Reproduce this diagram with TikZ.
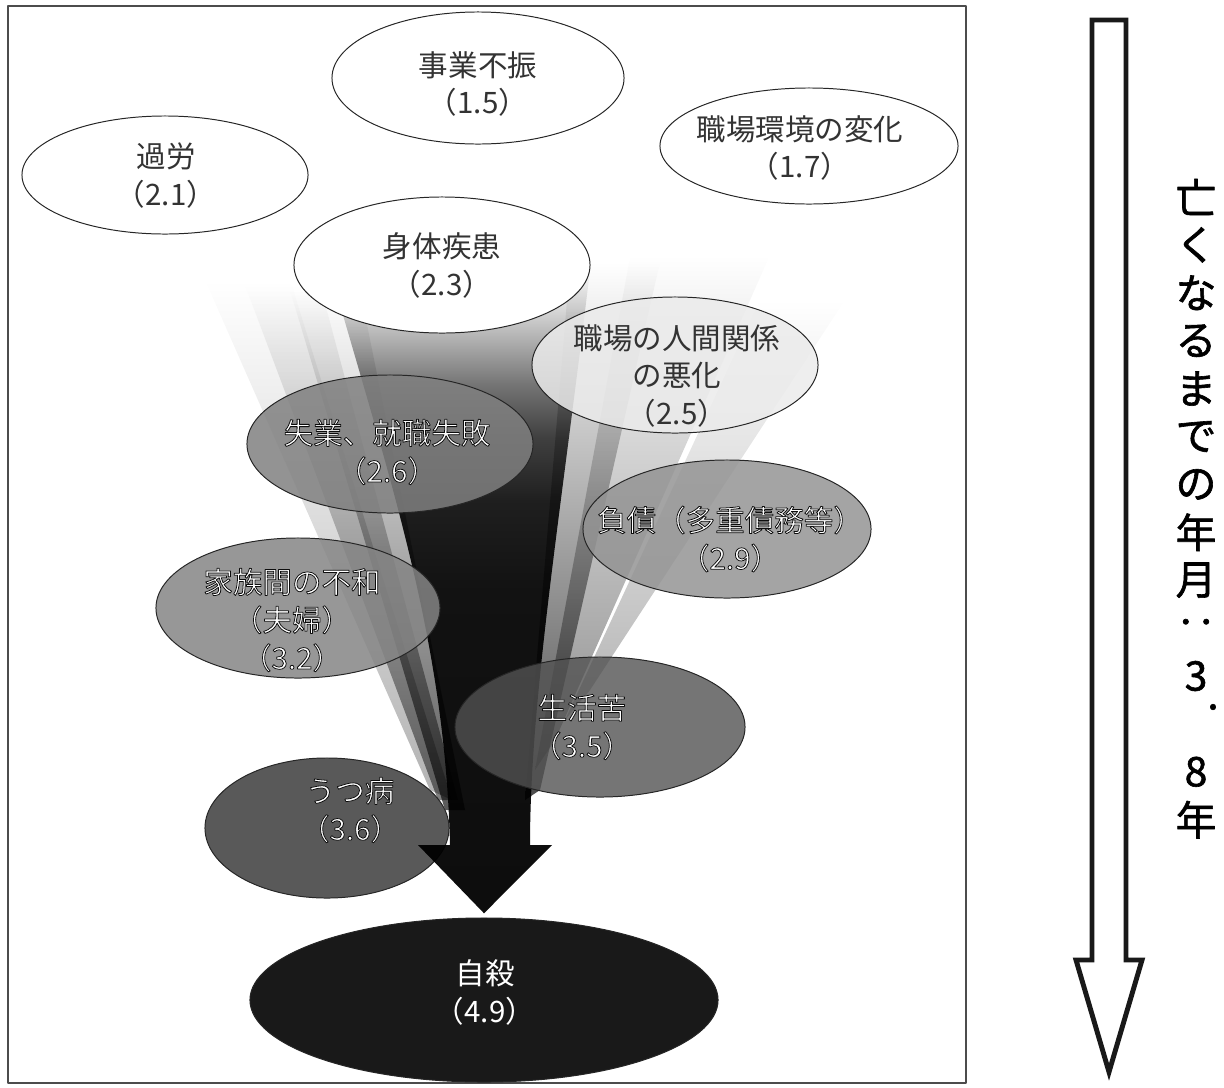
\documentclass[tikz,border=0pt]{standalone}
\usepackage{fontspec}
\setmainfont{Noto Sans CJK JP}
\newfontfamily\vfont[RawFeature={embolden=1.5}]{Noto Sans CJK JP}
\usetikzlibrary{shapes.geometric}
\newcommand{\wt}[1]{\special{pdf:literal direct 2 Tr 0.55 w 0.05 G}#1\special{pdf:literal direct 0 Tr}}
\pgfdeclareverticalshading{funnel}{100bp}{color(0bp)=(black!95); color(25bp)=(black!95);
  color(50bp)=(black!93); color(57bp)=(black!88); color(62bp)=(black!75); color(66bp)=(black!55);
  color(69bp)=(black!35); color(72bp)=(black!15); color(75bp)=(white); color(100bp)=(white)}
\begin{document}
\begin{tikzpicture}[x=0.025cm,y=-0.025cm,line join=round,
  bubble/.style={ellipse,draw=black!85,line width=0.7pt,inner sep=0pt},
  lbl/.style={align=center,font=\fontsize{21}{27}\selectfont,text=black!80},
  beam/.style={top color=white,bottom color=black!#1,draw=none},
  vtxt/.style={font=\vfont\fontsize{29}{29}\selectfont,inner sep=0pt}]
\useasboundingbox (0,0) rectangle (1224,1087);
\draw[black!70,line width=1pt] (8,6) rectangle (966,1083);
% beams and shaft
\begin{scope}[blend mode=multiply]
\path[beam=30] (205,280) -- (290,280) -- (452,800) -- (430,790) -- cycle;
\path[beam=50] (245,285) -- (320,285) -- (458,800) -- (438,800) -- cycle;
\path[beam=65] (290,290) -- (360,290) -- (465,810) -- (445,810) -- cycle;
\path[beam=70] (570,265) -- (660,262) -- (540,790) -- (525,800) -- cycle;
\path[beam=45] (630,258) -- (770,255) -- (555,740) -- (535,770) -- cycle;
\path[beam=30] (760,300) -- (845,300) -- (590,690) -- (565,720) -- cycle;
\end{scope}
\node[bubble,fill=black!65,minimum width=6.1cm,minimum height=3.5cm] (utsu) at (327,828) {};
\node[bubble,fill=black!90,minimum width=11.7cm,minimum height=4.1cm] (jisatsu) at (484,1000) {};
\coordinate (tip) at ([yshift=3pt]jisatsu.north);
\begin{scope}[blend mode=multiply]
\shade[shading=funnel]
  (330,270) .. controls (390,480) and (445,640) .. (450,845) -- (418,845) -- (tip)
  -- (552,845) -- (530,845) .. controls (530,700) and (560,520) .. (590,270) -- cycle;
\end{scope}
% causes
\node[bubble,fill=white,minimum width=7.3cm,minimum height=3.3cm] (jigyo) at (478,78) {};
\node[bubble,fill=white,minimum width=7.15cm,minimum height=2.95cm] (karou) at (165,175) {};
\node[bubble,fill=white,minimum width=7.45cm,minimum height=2.9cm] (kankyo) at (809,146) {};
\node[bubble,fill=white,minimum width=7.4cm,minimum height=3.4cm] (shintai) at (442,265) {};
\node[bubble,fill=black!8,fill opacity=0.85,minimum width=7.15cm,minimum height=3.4cm] (ningen) at (675,365) {};
\node[bubble,fill=black!50,fill opacity=0.85,minimum width=7.15cm,minimum height=3.45cm] (shitsugyo) at (390,444) {};
\node[bubble,fill=black!42,fill opacity=0.85,minimum width=7.2cm,minimum height=3.45cm] (fusai) at (727,529) {};
\node[bubble,fill=black!48,fill opacity=0.85,minimum width=7.1cm,minimum height=3.5cm] (kazoku) at (298,608) {};
\node[bubble,fill=black!68,fill opacity=0.8,minimum width=7.25cm,minimum height=3.5cm] (seikatsu) at (600,727) {};
% labels
\node[lbl] (jigyo-t) at (478,84) {事業不振\\（1.5）};
\node[lbl] (karou-t) at (166,176) {過労\\（2.1）};
\node[lbl] (kankyo-t) at (800,148) {職場環境の変化\\（1.7）};
\node[lbl] (shintai-t) at (442,265) {身体疾患\\（2.3）};
\node[lbl] (ningen-t) at (677,376) {職場の人間関係\\の悪化\\（2.5）};
\node[lbl,text=white] (shitsugyo-t) at (387,452) {\wt{失業、就職失敗}\\\wt{（2.6）}};
\node[lbl,text=white] (fusai-t) at (730,539) {\wt{負債（多重債務等）}\\\wt{（2.9）}};
\node[lbl,text=white] (kazoku-t) at (292,620) {\wt{家族間の不和}\\\wt{（夫婦）}\\\wt{（3.2）}};
\node[lbl,text=white] (seikatsu-t) at (582,727) {\wt{生活苦}\\\wt{（3.5）}};
\node[lbl,text=white] (utsu-t) at (350,810) {\wt{うつ病}\\\wt{（3.6）}};
\node[lbl,text=white] (jisatsu-t) at (485,992) {自殺\\（4.9）};
% time arrow
\draw[black!90,line width=3.5pt,line join=miter,fill=white]
  (1092,20) -- (1126,20) -- (1126,960) -- (1142,960) -- (1109,1072) -- (1076,960) -- (1092,960) -- cycle;
\foreach \ch/\n in {亡/0,く/1,な/2,る/3,ま/4,で/5,の/6,年/7,月/8,‥/9,3/10,8/12,年/13}
  \node[vtxt] (v\n) at (1196,{197+47.9*\n}) {\ch};
\node[vtxt] (vdot) at (1213,707) {.};
\end{tikzpicture}
\end{document}
